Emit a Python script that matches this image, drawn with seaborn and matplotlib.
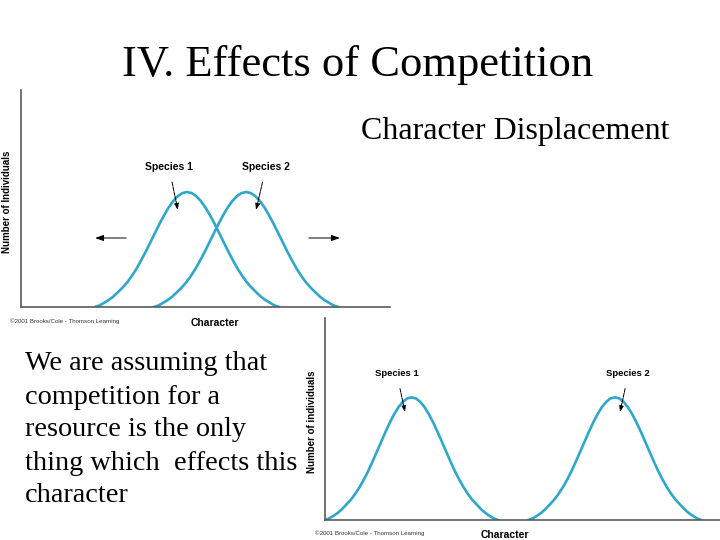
import pandas as pd
import seaborn as sns
import matplotlib.pyplot as plt

# curves (character value, number of individuals)
top_sp1_x = [20, 21.25, 22.5, 23.75, 25, 26.25, 27.5, 28.75, 30, 31.25, 32.5, 33.75, 35, 36.25,
             37.5, 38.75, 40, 41.25, 42.5, 43.75, 45, 46.25, 47.5, 48.75, 50, 51.25, 52.5, 53.75,
             55, 56.25, 57.5, 58.75, 60, 61.25, 62.5, 63.75, 65, 66.25, 67.5, 68.75, 70]
top_sp2_x = [36, 37.25, 38.5, 39.75, 41, 42.25, 43.5, 44.75, 46, 47.25, 48.5, 49.75, 51, 52.25,
             53.5, 54.75, 56, 57.25, 58.5, 59.75, 61, 62.25, 63.5, 64.75, 66, 67.25, 68.5, 69.75,
             71, 72.25, 73.5, 74.75, 76, 77.25, 78.5, 79.75, 81, 82.25, 83.5, 84.75, 86]
top_y = [0, 0.7, 1.9, 3.2, 4.8, 6.8, 8.9, 11.3, 14.2, 17.5, 21.3, 25.3, 29.6, 33.9, 38.2, 42.2,
         45.8, 48.8, 51.1, 52.5, 53, 52.5, 51.1, 48.8, 45.8, 42.2, 38.2, 33.9, 29.6, 25.3, 21.3,
         17.5, 14.2, 11.3, 8.9, 6.8, 4.8, 3.2, 1.9, 0.7, 0]

bot_sp1_x = [0, 1, 2, 3, 4, 5, 6, 7, 8, 9, 10, 11, 12, 13, 14, 15, 16, 17, 18, 19, 20, 21, 22, 23,
             24, 25, 26, 27, 28, 29, 30, 31, 32, 33, 34, 35, 36, 37, 38, 39, 40]
bot_sp2_x = [47, 48, 49, 50, 51, 52, 53, 54, 55, 56, 57, 58, 59, 60, 61, 62, 63, 64, 65, 66, 67,
             68, 69, 70, 71, 72, 73, 74, 75, 76, 77, 78, 79, 80, 81, 82, 83, 84, 85, 86, 87]
bot_y = [0, 0.8, 2.1, 3.6, 5.5, 7.8, 10.1, 13.0, 16.3, 20.1, 24.3, 29.0, 33.9, 38.8, 43.7, 48.3,
         52.4, 55.9, 58.5, 60.2, 60.7, 60.2, 58.5, 55.9, 52.4, 48.3, 43.7, 38.8, 33.9, 29.0, 24.3,
         20.1, 16.3, 13.0, 10.1, 7.8, 5.5, 3.6, 2.1, 0.8, 0]

title = "IV. Effects of Competition"
subtitle = "Character Displacement"
body_lines = ["We are assuming that", "competition for a", "resource is the only",
              "thing which  effects this", "character"]
credit = "\u00a92001 Brooks/Cole - Thomson Learning"

curve_color = "#2ea8c9"
axis_color = "#5a5a5a"

sns.set_style("white")
plt.rcParams["font.family"] = ["Liberation Sans", "DejaVu Sans"]
plt.rcParams["text.color"] = "black"
plt.rcParams["axes.labelcolor"] = "black"

fig = plt.figure(figsize=(7.2, 5.4), dpi=100)

top = pd.DataFrame({
    "character": top_sp1_x + top_sp2_x,
    "n": top_y + top_y,
    "species": ["Species 1"] * len(top_sp1_x) + ["Species 2"] * len(top_sp2_x),
})
bot = pd.DataFrame({
    "character": bot_sp1_x + bot_sp2_x,
    "n": bot_y + bot_y,
    "species": ["Species 1"] * len(bot_sp1_x) + ["Species 2"] * len(bot_sp2_x),
})

ax1 = fig.add_axes([21 / 720, 1 - 307 / 540, 369 / 720, 217 / 540])
ax2 = fig.add_axes([325 / 720, 1 - 520 / 540, 395 / 720, 202 / 540])

sns.lineplot(data=top, x="character", y="n", hue="species", units="species", estimator=None,
             palette=[curve_color, curve_color], linewidth=1.9, legend=False, ax=ax1)
sns.lineplot(data=bot, x="character", y="n", hue="species", units="species", estimator=None,
             palette=[curve_color, curve_color], linewidth=1.9, legend=False, ax=ax2)

ax1.set_xlim(0, 100)
ax1.set_ylim(0, 100)
ax2.set_xlim(0, 91.3)
ax2.set_ylim(0, 100)

for ax in (ax1, ax2):
    ax.set_xticks([])
    ax.set_yticks([])
    ax.patch.set_alpha(0)
    for s in ("top", "right"):
        ax.spines[s].set_visible(False)
    for s in ("left", "bottom"):
        ax.spines[s].set_color(axis_color)
        ax.spines[s].set_linewidth(1.2)

ax1.set_ylabel("Number of Individuals", fontsize=7, fontweight="bold")
ax1.yaxis.set_label_coords(-0.024, 0.484)
ax1.set_xlabel("Character", fontsize=7.5, fontweight="bold")
ax1.xaxis.set_label_coords(0.526, -0.05)
ax2.set_ylabel("Number of individuals", fontsize=7, fontweight="bold")
ax2.yaxis.set_label_coords(-0.02, 0.485)
ax2.set_xlabel("Character", fontsize=7.5, fontweight="bold")
ax2.xaxis.set_label_coords(0.456, -0.048)

ax1.text(-0.03, -0.065, credit, transform=ax1.transAxes, fontsize=4.4, color="#333333",
         ha="left", va="center")
ax2.text(-0.025, -0.064, credit, transform=ax2.transAxes, fontsize=4.4, color="#333333",
         ha="left", va="center")

arrow = dict(arrowstyle="-|>,head_length=0.5,head_width=0.18", color="black", lw=0.7,
             shrinkA=5, shrinkB=0, linestyle=(0, (4, 1)))
ax1.annotate("Species 1", xy=(42.5, 44.7), xytext=(40.1, 64.5), fontsize=7.5, fontweight="bold",
             ha="center", va="center", arrowprops=arrow)
ax1.annotate("Species 2", xy=(63.7, 44.7), xytext=(66.4, 64.5), fontsize=7.5, fontweight="bold",
             ha="center", va="center", arrowprops=arrow)
ax2.annotate("Species 1", xy=(18.5, 53.5), xytext=(16.6, 72.3), fontsize=6.8, fontweight="bold",
             ha="center", va="center", arrowprops=arrow)
ax2.annotate("Species 2", xy=(68.2, 53.5), xytext=(70.1, 72.3), fontsize=6.8, fontweight="bold",
             ha="center", va="center", arrowprops=arrow)

# displacement arrows
side = dict(arrowstyle="-|>,head_length=0.5,head_width=0.18", color="black", lw=0.7,
            shrinkA=0, shrinkB=0)
ax1.annotate("", xy=(20.1, 31.8), xytext=(28.5, 31.8), arrowprops=side)
ax1.annotate("", xy=(86.4, 31.8), xytext=(78, 31.8), arrowprops=side)

fig.text(358 / 720, 1 - 65 / 540, title, family="Liberation Serif", fontsize=32,
         ha="center", va="center")
fig.text(515 / 720, 1 - 132 / 540, subtitle, family="Liberation Serif", fontsize=23,
         ha="center", va="center")
for i, line in enumerate(body_lines):
    fig.text(25 / 720, 1 - (364 + 33 * i) / 540, line, family="Liberation Serif",
             fontsize=20.3, ha="left", va="center")

fig.savefig("out.png", dpi=100)
